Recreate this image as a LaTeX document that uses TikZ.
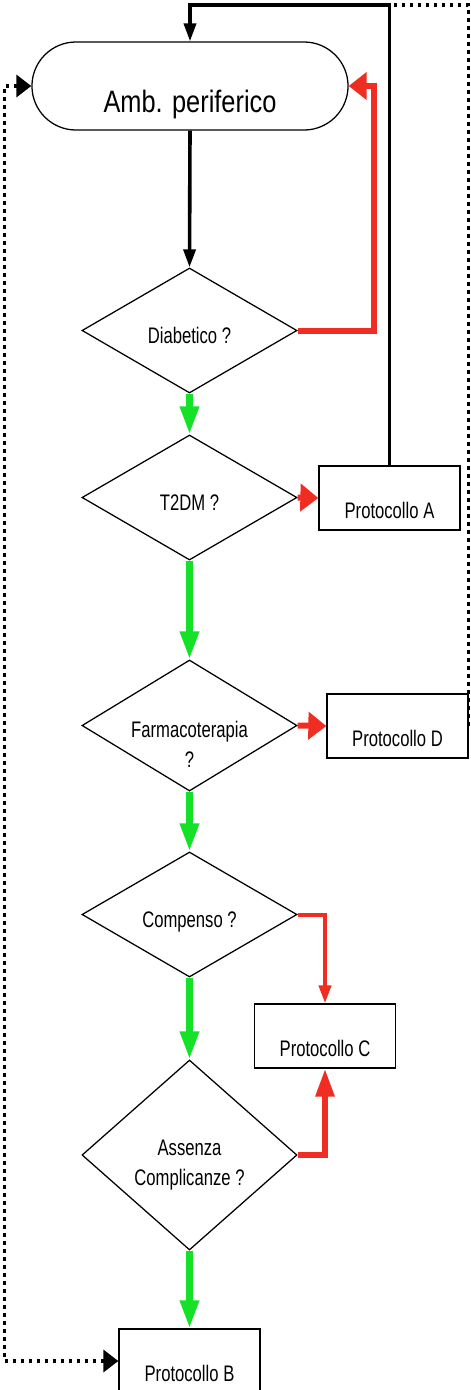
\documentclass[tikz,border=0pt]{standalone}
\usepackage{fontspec}
\setmainfont{Liberation Sans}[FakeStretch=0.74]
\newfontfamily\ambfont{Liberation Sans}[FakeStretch=0.82]
\usetikzlibrary{arrows.meta,shapes.geometric}

\definecolor{yesgreen}{RGB}{20,225,40}
\definecolor{nored}{RGB}{240,45,35}

\tikzset{
	startnode/.style={rectangle, rounded corners=1.1cm, draw, line width=0.9pt, minimum width=7.9cm, minimum height=2.2cm, inner sep=0pt, font=\fontsize{22}{26}\ambfont, text height=1.3cm, text depth=0pt},
	decision/.style={diamond, aspect=1.72, draw, line width=0.9pt, minimum width=5.375cm, minimum height=3.125cm, inner sep=0pt, align=center, font=\fontsize{16}{21}\selectfont, text height=0.65cm, text depth=0pt},
	protocol/.style={rectangle, draw, line width=0.9pt, minimum width=3.525cm, minimum height=1.6cm, inner sep=0pt, font=\fontsize{16}{21}\selectfont, text height=1cm, text depth=0pt},
	yesflow/.style={draw=yesgreen, line width=0.16cm, -{Triangle[length=0.7cm, width=0.45cm]}},
	noflow/.style={draw=nored, line width=0.15cm, -{Triangle[length=0.45cm, width=0.675cm]}},
	noup/.style={draw=nored, line width=0.15cm, -{Triangle[length=0.7cm, width=0.45cm]}},
	nothin/.style={draw=nored, line width=0.1cm, -{Triangle[length=0.45cm, width=0.3cm]}},
	backline/.style={line width=0.09cm, -{Triangle[length=0.45cm, width=0.3cm]}},
	dotline/.style={line width=0.09cm, dash pattern=on 0.09cm off 0.11cm},
	dotback/.style={dotline, {Triangle[length=0.375cm, width=0.55cm]}-{Triangle[length=0.375cm, width=0.55cm]}}
}

\begin{document}
\begin{tikzpicture}[x=0.025cm, y=-0.025cm]
	\useasboundingbox (0, 0) rectangle (471, 1390);
	
	\node[startnode] at (190, 86) (amb) {Amb. periferico};
	
	\node[decision] at (189.5, 330.5) (diab) {Diabetico ?};
	\node[decision] at (189.5, 497.5) (t2dm) {T2DM ?};
	\node[decision, minimum height=3.275cm, text height=2.075cm, inner ysep=-1cm] at (189.5, 725.5) (farm) {Farmacoterapia\\?};
	\node[decision] at (189.5, 914.5) (comp) {Compenso ?};
	\node[decision, minimum height=4.75cm, text height=1.5cm, inner ysep=-0.7cm] at (189.5, 1155) (ass) {Assenza\\Complicanze ?};
	
	\node[protocol] at (389.5, 498) (protA) {Protocollo A};
	\node[protocol] at (397.5, 726) (protD) {Protocollo D};
	\node[protocol] at (325, 1036) (protC) {Protocollo C};
	\node[protocol] at (189.5, 1361) (protB) {Protocollo B};
	
	\coordinate (backturn) at (190, 5);
	
	\draw[backline] (amb.south) to (diab.north);
	\draw[backline] (protA.north) |- (backturn) to (amb.north);
	\draw[dotline] (protD.east) |- (backturn);
	\draw[dotback] (protB.west) -- ++(-114, 0) |- (amb.west);
	
	\draw[yesflow] (diab.south) to (t2dm.north);
	\draw[yesflow] (t2dm.south) to (farm.north);
	\draw[yesflow] (farm.south) to (comp.north);
	\draw[yesflow] (comp.south) to (ass.north);
	\draw[yesflow] (ass.south) to (protB.north);
	
	\draw[noflow] (diab.east) -- ++(76, 0) |- (amb.east);
	\draw[noflow] (t2dm.east) to (protA.west);
	\draw[noflow] (farm.east) to (protD.west);
	\draw[nothin] (comp.east) -| (protC.north);
	\draw[noup] (ass.east) -| (protC.south);
	
\end{tikzpicture}
\end{document}
